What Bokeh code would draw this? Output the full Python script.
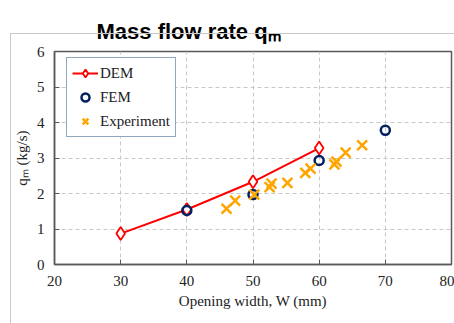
from bokeh.plotting import figure
from bokeh.models import Legend, LegendItem, FixedTicker, InlineStyleSheet
from bokeh.embed import file_html
from bokeh.resources import INLINE

# ---- data ----
dem_w = [30, 40, 50, 60]
dem_q = [0.87, 1.55, 2.33, 3.28]
fem_w = [40, 50, 60, 70]
fem_q = [1.52, 1.97, 2.93, 3.78]
exp_w = [46.0, 47.3, 50.2, 52.5, 52.8, 55.2, 57.9, 58.7, 62.3, 62.6, 64.0, 66.5]
exp_q = [1.57, 1.80, 1.97, 2.18, 2.28, 2.30, 2.58, 2.70, 2.82, 2.90, 3.15, 3.36]
x_ticks = [20, 30, 40, 50, 60, 70, 80]
y_ticks = [0, 1, 2, 3, 4, 5, 6]
title_text = "Mass flow rate qₘ"
xlabel_text = "Opening width, W (mm)"
ylabel_text = "qₘ (kg/s)"

p = figure(width=454, height=323, x_range=(20, 80), y_range=(0, 6),
           output_backend="svg", toolbar_location=None,
           min_border_left=54, min_border_right=3, min_border_top=51, min_border_bottom=59)
p.background_fill_color = "white"
p.border_fill_color = "white"
p.outline_line_color = "#595959"
p.outline_line_width = 1.5

p.title.text = title_text
p.title.text_font = "Liberation Sans"
p.title.text_font_style = "bold"
p.title.text_font_size = "22px"
p.title.text_color = "#000000"
p.title.align = "left"
p.title.offset = 42
p.title.standoff = 16

for ax, ticks in ((p.xaxis, x_ticks), (p.yaxis, y_ticks)):
    ax.ticker = FixedTicker(ticks=ticks)
    ax.minor_tick_line_color = None
    ax.major_tick_in = 5
    ax.major_tick_out = 0
    ax.major_tick_line_color = "#595959"
    ax.axis_line_color = "#595959"
    ax.axis_line_width = 1.5
    ax.major_label_text_font = "Liberation Serif"
    ax.major_label_text_font_size = "15px"
    ax.major_label_text_color = "#222222"
    ax.axis_label_text_font = "Liberation Serif"
    ax.axis_label_text_font_size = "15px"
    ax.axis_label_text_font_style = "normal"
    ax.axis_label_text_color = "#222222"
p.xaxis.major_label_standoff = 11
p.yaxis.major_label_standoff = 10
p.xaxis.axis_label = xlabel_text
p.yaxis.axis_label = ylabel_text
p.xaxis.axis_label_standoff = 4
p.yaxis.axis_label_standoff = 4

for g in (p.xgrid, p.ygrid):
    g.grid_line_color = "#c8c8c8"
    g.grid_line_dash = "4 3"
    g.grid_line_width = 1

dem_line = p.line(dem_w, dem_q, line_color="#ff0000", line_width=2)
dem_pts = p.scatter(dem_w, dem_q, marker="diamond", size=13, fill_color="white",
                    line_color="#ff0000", line_width=1.8)
fem_pts = p.scatter(fem_w, fem_q, marker="circle", size=9, fill_color=None,
                    line_color="#002060", line_width=2.5)
exp_pts = p.scatter(exp_w, exp_q, marker="x", size=14, line_color="#ffa500", line_width=2.5)

legend = Legend(items=[
    LegendItem(label="DEM", renderers=[dem_line, dem_pts]),
    LegendItem(label="FEM", renderers=[fem_pts]),
    LegendItem(label="Experiment", renderers=[exp_pts]),
], location=(12, 127))
legend.border_line_color = "#1f4e79"
legend.border_line_width = 1.2
legend.background_fill_alpha = 1
legend.label_text_font = "Liberation Serif"
legend.label_text_font_size = "15px"
legend.label_text_color = "#222222"
legend.glyph_width = 26
legend.glyph_height = 20
legend.label_height = 20
legend.spacing = 4
legend.padding = 5
legend.margin = 0
legend.label_standoff = 2
p.add_layout(legend)

p.stylesheets = [InlineStyleSheet(css=":host{position:relative;} :host::after{content:'';position:absolute;left:10px;top:33px;width:460px;height:300px;border:1px solid #c8c8c8;pointer-events:none;}")]

open("out.html", "w").write(file_html(p, INLINE))
